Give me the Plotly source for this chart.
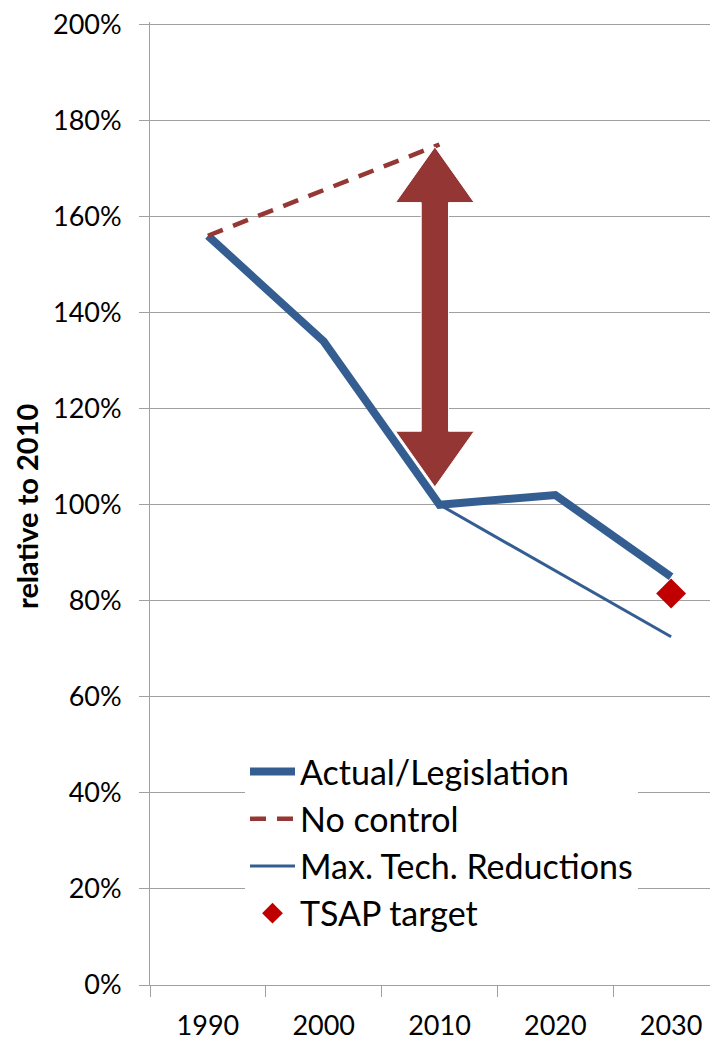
import plotly.graph_objects as go

years = [1990, 2000, 2010, 2020, 2030]
actual = [156, 134, 100, 102, 85]
no_control = [156, None, 175, None, None]
max_tech = [None, None, 100, None, 72.5]
tsap_year = [2030]
tsap_target = [81.5]
y_ticks = [0, 20, 40, 60, 80, 100, 120, 140, 160, 180, 200]

# double arrow marking the gap in 2010
arrow_year = 2009.6
arrow_top = 174.5
arrow_bottom = 103.7
head_len = 11.6
head_half = 3.4
shaft_half = 1.18

FONT = "Lato"
BLUE = "#345E92"
DARKRED = "#953735"
ARROW = "#943634"
RED = "#C00000"
GRID = "#A0A0A0"

# page body has an 8px margin: figure is 710x1032 placed at (8, 8)
W, H = 710, 1032
L, T, B = 142, 14, 55
PW = W - L

fig = go.Figure()
fig.add_trace(go.Scatter(x=years, y=actual, mode="lines", name="Actual/Legislation",
                         line=dict(color=BLUE, width=8), legendgroup="a"))
fig.add_trace(go.Scatter(x=years, y=no_control, mode="lines", name="No control", connectgaps=True,
                         line=dict(color=DARKRED, width=4.5, dash="16px,11px"), legendgroup="b"))
fig.add_trace(go.Scatter(x=years, y=max_tech, mode="lines", name="Max. Tech. Reductions", connectgaps=True,
                         line=dict(color=BLUE, width=3), legendgroup="c"))
fig.add_trace(go.Scatter(x=tsap_year, y=tsap_target, mode="markers", name="TSAP target",
                         marker=dict(symbol="diamond", color=RED, size=23), legendgroup="d"))

xc = arrow_year
path = (f"M{xc},{arrow_top} L{xc + head_half},{arrow_top - head_len} L{xc + shaft_half},{arrow_top - head_len} "
        f"L{xc + shaft_half},{arrow_bottom + head_len} L{xc + head_half},{arrow_bottom + head_len} "
        f"L{xc},{arrow_bottom} L{xc - head_half},{arrow_bottom + head_len} L{xc - shaft_half},{arrow_bottom + head_len} "
        f"L{xc - shaft_half},{arrow_top - head_len} L{xc - head_half},{arrow_top - head_len} Z")
fig.add_shape(type="path", path=path, xref="x", yref="y", fillcolor=ARROW,
              line=dict(color="white", width=1), layer="above")

fig.add_annotation(text="<b>relative to 2010</b>", textangle=-90, xref="paper", yref="paper",
                   x=(26 - 150) / PW, y=(984.5 - 508) / 960, xanchor="center", yanchor="middle", showarrow=False,
                   font=dict(family=FONT, size=29, color="black"))

fig.update_layout(
    width=W, height=H,
    margin=dict(l=L, r=0, t=T, b=B, autoexpand=False),
    paper_bgcolor="white", plot_bgcolor="white",
    font=dict(family=FONT, color="black"),
    showlegend=True,
    legend=dict(x=(245 - 150) / PW, y=(985 - 743) / 963, xanchor="left", yanchor="top",
                bgcolor="white", font=dict(family=FONT, size=34, color="black"),
                itemwidth=45, tracegroupgap=0, traceorder="normal"),
)
fig.update_xaxes(range=[1985, 2034.05], tickvals=years, ticktext=[str(y) for y in years],
                 ticks="", showgrid=False, zeroline=False, automargin=False,
                 showline=True, linecolor=GRID, linewidth=1,
                 tickfont=dict(family=FONT, size=27, color="black"), ticklabelstandoff=17,
                 ticklabeloverflow="allow",
                 minor=dict(tickvals=[1985, 1995, 2005, 2015, 2025], ticks="outside", ticklen=11,
                            tickcolor=GRID, showgrid=False))
fig.update_yaxes(range=[0, 200.5], tickvals=y_ticks, ticktext=[f"{v}%" for v in y_ticks],
                 ticks="outside", ticklen=10, ticklabeloverflow="allow",
                 tickcolor=GRID, showgrid=True, gridcolor=GRID, gridwidth=1, zeroline=False,
                 showline=True, linecolor=GRID, linewidth=1, automargin=False,
                 tickfont=dict(family=FONT, size=27, color="black"), ticklabelstandoff=12)

fig.write_html("out.html")
